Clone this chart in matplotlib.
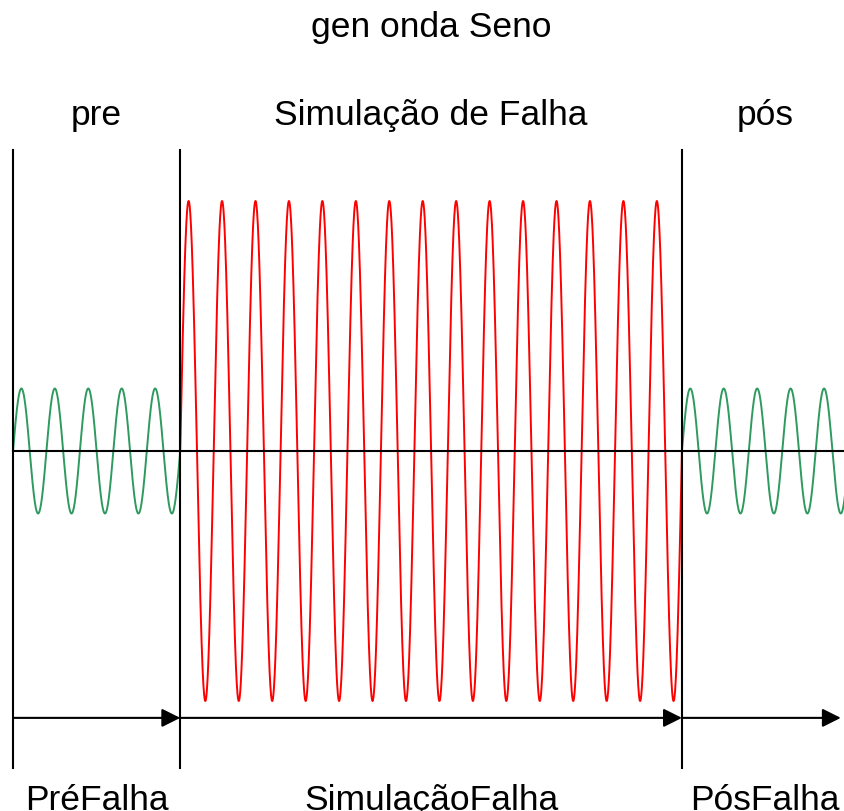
import numpy as np
import matplotlib
matplotlib.use('Agg')
import matplotlib.pyplot as plt

plt.rcParams['font.family'] = ['Liberation Sans', 'DejaVu Sans']

# signal settings (time in s, amplitude in pu)
freq = 60.0
t_pre_end = 5 / freq        # 5 cycles before the fault
t_fault_end = 20 / freq     # 15 cycles of fault
t_post_end = 0.42
amp_normal = 1.0
amp_fault = 4.0

section_titles = ['pre', 'Simulação de Falha', 'pós']
section_labels = ['PréFalha', 'SimulaçãoFalha', 'PósFalha']
boundaries = [0.0, t_pre_end, t_fault_end]

green = '#2E9A60'
red = '#FF0000'

fig = plt.figure(figsize=(8.44, 8.11), dpi=100)
ax = fig.add_axes([0, 0, 1, 1])
ax.set_xlim(-0.00648, 0.4141)
ax.set_ylim(-5.76, 7.216)
ax.axis('off')

t1 = np.linspace(0, t_pre_end, 600)
t2 = np.linspace(t_pre_end, t_fault_end, 2000)
t3 = np.linspace(t_fault_end, t_post_end, 800)

ax.plot(t1, amp_normal * np.sin(2 * np.pi * freq * t1), color=green, lw=1.4)
ax.plot(t2, amp_fault * np.sin(2 * np.pi * freq * t2), color=red, lw=1.4)
ax.plot(t3, amp_normal * np.sin(2 * np.pi * freq * t3), color=green, lw=1.4)

# zero axis
ax.plot([0, t_post_end], [0, 0], color='black', lw=1.5)

# section boundaries
for b in boundaries:
    ax.plot([b, b], [-5.07, 4.816], color='black', lw=1.5)

# time arrows
arrow_y = -4.27
ends = [t_pre_end, t_fault_end, 0.4125]
for start, end in zip(boundaries, ends):
    ax.annotate('', xy=(end, arrow_y), xytext=(start, arrow_y),
                arrowprops=dict(arrowstyle='-|>', color='black', lw=1.5,
                                mutation_scale=28, shrinkA=0, shrinkB=0))

centers = [t_pre_end / 2, (t_pre_end + t_fault_end) / 2, 0.3747]
for c, title, label in zip(centers, section_titles, section_labels):
    ax.text(c, 5.37, title, ha='center', va='center', fontsize=25.5)
    ax.text(c, -5.74, label, ha='center', va='baseline', fontsize=25.5)

ax.text((t_pre_end + t_fault_end) / 2, 6.78, 'gen onda Seno',
        ha='center', va='center', fontsize=25.5)

fig.savefig('out.png', dpi=100)
